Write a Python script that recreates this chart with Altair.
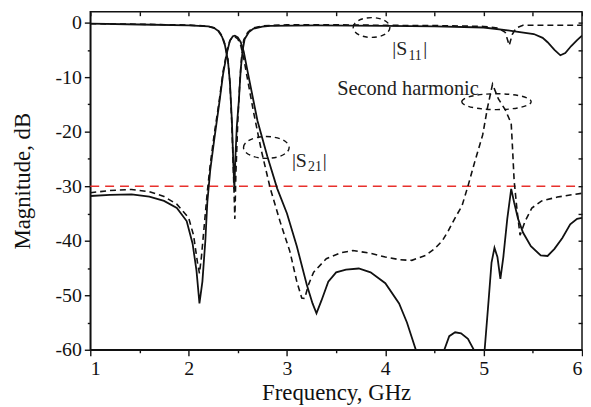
import altair as alt
import pandas as pd

# ---------------- data ----------------
# |S21| measured (solid)
s21_meas_f = [1.0, 1.2, 1.42, 1.6, 1.75, 1.88, 1.98, 2.04, 2.08, 2.11, 2.14, 2.17, 2.19, 2.22, 2.26,
              2.31, 2.35, 2.39, 2.42, 2.45, 2.47, 2.5, 2.53, 2.56, 2.6, 2.65, 2.7, 2.8, 2.9, 3.0,
              3.1, 3.2, 3.26, 3.3, 3.35, 3.42, 3.5, 3.6, 3.73, 3.85, 4.0, 4.14, 4.22, 4.31, 4.35,
              4.55, 4.6, 4.65, 4.71, 4.77, 4.84, 4.9, 4.94, 4.99, 5.01, 5.05, 5.08, 5.11, 5.14, 5.17,
              5.2, 5.24, 5.28, 5.31, 5.35, 5.4, 5.48, 5.58, 5.65, 5.72, 5.8, 5.88, 5.95, 6.0]
s21_meas_db = [-31.8, -31.6, -31.5, -31.9, -32.7, -34.0, -36.4, -40.5, -45.5, -51.5, -47.5, -40.0, -33.0, -27.0, -21.5,
               -15.0, -9.5, -5.5, -3.3, -2.5, -2.4, -2.7, -3.6, -5.3, -9.0, -13.5, -18.0, -24.5, -30.4, -35.0,
               -41.0, -48.0, -51.5, -53.3, -51.0, -47.5, -45.8, -45.3, -45.1, -45.8, -47.8, -51.5, -55.0, -60.0, -63.0,
               -63.0, -60.0, -57.5, -56.8, -57.0, -58.0, -60.0, -63.0, -63.0, -60.0, -51.0, -44.0, -41.3, -43.0, -47.0,
               -43.0, -36.0, -30.5, -33.0, -36.0, -38.5, -41.0, -42.7, -42.8, -41.5, -39.5, -37.0, -36.0, -35.8]

# |S21| simulated (dashed)
s21_sim_f = [1.0, 1.2, 1.42, 1.6, 1.75, 1.88, 2.0, 2.05, 2.09, 2.11, 2.13, 2.16, 2.19, 2.22, 2.26,
             2.31, 2.35, 2.39, 2.42, 2.45, 2.47, 2.5, 2.53, 2.56, 2.6, 2.66, 2.74, 2.83, 2.93, 3.03,
             3.1, 3.15, 3.18, 3.22, 3.27, 3.4, 3.55, 3.67, 3.85, 4.0, 4.15, 4.27, 4.41, 4.5, 4.58,
             4.64, 4.71, 4.78, 4.84, 4.91, 4.99, 5.04, 5.09, 5.15, 5.22, 5.28, 5.29, 5.31, 5.34, 5.37,
             5.42, 5.49, 5.59, 5.75, 5.92, 6.0]
s21_sim_db = [-31.2, -30.8, -30.6, -31.0, -31.9, -33.3, -35.8, -39.0, -44.0, -46.0, -43.0, -37.0, -31.0, -26.0, -20.5,
              -14.5, -9.0, -5.2, -3.3, -2.6, -2.6, -3.0, -4.2, -6.5, -10.5, -16.4, -23.5, -30.4, -36.5, -42.0,
              -47.5, -50.5, -50.6, -48.0, -45.8, -43.3, -42.2, -41.8, -42.3, -43.0, -43.5, -43.6, -42.7, -41.5, -40.0,
              -38.2, -35.8, -33.6, -30.0, -25.5, -20.6, -15.5, -11.3, -14.0, -16.0, -18.5, -21.8, -29.0, -34.5, -39.0,
              -36.5, -34.0, -32.7, -32.0, -31.5, -31.3]

# |S11| measured (solid)
s11_meas_f = [1.0, 1.5, 2.0, 2.2, 2.26, 2.3, 2.34, 2.37, 2.4, 2.42, 2.44, 2.455, 2.465, 2.475, 2.49,
              2.51, 2.53, 2.55, 2.57, 2.61, 2.66, 2.75, 2.83, 3.3, 4.0, 4.5, 5.0, 5.28, 5.51, 5.6,
              5.65, 5.72, 5.78, 5.83, 5.89, 5.95, 6.0]
s11_meas_db = [-0.2, -0.35, -0.5, -0.7, -1.0, -1.5, -2.6, -4.2, -7.0, -11.0, -18.0, -26.0, -30.5, -25.0, -19.0,
               -14.5, -8.5, -5.0, -3.0, -1.8, -1.1, -0.75, -0.6, -0.5, -0.6, -0.7, -0.9, -1.5, -2.1, -2.8,
               -3.6, -5.0, -6.0, -5.6, -4.3, -3.2, -2.4]

# |S11| simulated (dashed)
s11_sim_f = [1.0, 1.5, 2.0, 2.2, 2.26, 2.3, 2.34, 2.37, 2.4, 2.42, 2.44, 2.46, 2.47, 2.48, 2.5,
             2.52, 2.54, 2.56, 2.6, 2.65, 2.75, 3.0, 3.5, 4.0, 4.5, 5.0, 5.15, 5.22, 5.26, 5.29,
             5.33, 5.4, 6.0]
s11_sim_db = [-0.2, -0.3, -0.45, -0.65, -0.95, -1.4, -2.4, -4.0, -6.8, -11.0, -19.0, -30.0, -36.0, -28.0, -18.0,
              -11.0, -6.0, -3.2, -1.8, -1.0, -0.6, -0.4, -0.4, -0.5, -0.55, -0.7, -1.0, -1.8, -4.2, -2.2,
              -1.0, -0.5, -0.5]

# -30 dB reference line
ref_f = [1.0, 5.93]
ref_db = [-30.0, -30.0]

# axis ticks
x_major_ticks = [1, 2, 3, 4, 5, 6]
x_minor_ticks = [1.5, 2.5, 3.5, 4.5, 5.5]
y_major_ticks = [0, -10, -20, -30, -40, -50, -60]
y_minor_ticks = [-5, -15, -25, -35, -45, -55]

# annotations
ann_text = ["|S", "11", "|", "|S", "21", "|", "Second harmonic"]
ann_f = [4.07, 4.235, 4.385, 3.05, 3.215, 3.365, 3.51]
ann_db = [-6.0, -6.8, -6.0, -26.5, -27.3, -26.5, -13.3]
ann_size = [20, 14, 20, 20, 14, 20, 20.5]

ell_f = [3.86, 2.79, 5.13]
ell_db = [-0.9, -22.9, -14.5]
ell_w = [37, 46, 70]
ell_h = [20, 22, 16]

# ---------------- chart ----------------
FONT = "Liberation Serif"


def frame(f, db):
    return pd.DataFrame({"f": f, "db": db})


def ellipse_path(w, h):
    r = h / w
    k = 0.5523
    return (f"M -1 0 C -1 {-k*r:.4f} {-k:.4f} {-r:.4f} 0 {-r:.4f} "
            f"C {k:.4f} {-r:.4f} 1 {-k*r:.4f} 1 0 "
            f"C 1 {k*r:.4f} {k:.4f} {r:.4f} 0 {r:.4f} "
            f"C {-k:.4f} {r:.4f} -1 {k*r:.4f} -1 0 Z")


xs = alt.Scale(domain=[1, 6], nice=False, zero=False)
ys = alt.Scale(domain=[-60, 2], nice=False, zero=False)

lbl = "'' + datum.value"
common = dict(grid=False, labelFont=FONT, titleFont=FONT, labelFontSize=20, titleFontSize=23,
              labelColor="#111111", titleColor="#111111", titleFontWeight="normal",
              domainColor="#111111", tickColor="#111111", tickWidth=1.4, domainWidth=1.5)

ax_x_major = alt.Axis(values=x_major_ticks, title="Frequency, GHz", tickSize=6, labelPadding=3,
                      titlePadding=3, labelExpr=lbl, **common)
ax_y_major = alt.Axis(values=y_major_ticks, title="Magnitude, dB", tickSize=6, labelPadding=3,
                      titlePadding=21, labelExpr=lbl, **common)
ax_x_minor = alt.Axis(values=x_minor_ticks, title="", tickSize=3, labels=False, domain=False, **common)
ax_y_minor = alt.Axis(values=y_minor_ticks, title="", tickSize=3, labels=False, domain=False, **common)
ax_x_top = alt.Axis(orient="top", values=x_major_ticks + x_minor_ticks, title="", tickSize=4, offset=-4,
                    labels=False, domain=False, **common)
ax_y_right = alt.Axis(orient="right", values=y_major_ticks + y_minor_ticks, title="", tickSize=4, offset=-4,
                      labels=False, domain=False, **common)


def curve(df, xaxis, yaxis, dash=None, width=1.8):
    kw = dict(color="#111111", strokeWidth=width, clip=True)
    if dash:
        kw["strokeDash"] = dash
    return alt.Chart(df).mark_line(**kw).encode(
        x=alt.X("f:Q", scale=xs, axis=xaxis),
        y=alt.Y("db:Q", scale=ys, axis=yaxis),
    )


l1 = curve(frame(s21_meas_f, s21_meas_db), ax_x_major, ax_y_major)
l2 = curve(frame(s21_sim_f, s21_sim_db), ax_x_minor, ax_y_minor, dash=[6, 4], width=1.6)
l3 = curve(frame(s11_meas_f, s11_meas_db), ax_x_top, ax_y_right)
l4 = curve(frame(s11_sim_f, s11_sim_db), None, None, dash=[6, 4], width=1.6)

ref = alt.Chart(frame(ref_f, ref_db)).mark_line(color="#e8302c", strokeWidth=1.6, strokeDash=[9, 6]).encode(
    x=alt.X("f:Q", scale=xs, axis=None),
    y=alt.Y("db:Q", scale=ys, axis=None),
)

ann_df = pd.DataFrame({"f": ann_f, "db": ann_db, "t": ann_text, "s": ann_size})
texts = alt.Chart(ann_df).mark_text(align="left", baseline="alphabetic", font=FONT, color="#222222").encode(
    x=alt.X("f:Q", scale=xs, axis=None),
    y=alt.Y("db:Q", scale=ys, axis=None),
    text="t:N",
    size=alt.Size("s:Q", scale=None, legend=None),
)

ell_df = pd.DataFrame({
    "f": ell_f, "db": ell_db,
    "shape": [ellipse_path(w, h) for w, h in zip(ell_w, ell_h)],
    "size": [w * w for w in ell_w],
})
ellipses = alt.Chart(ell_df).mark_point(filled=False, color="#111111", strokeWidth=1.4,
                                        strokeDash=[5, 4], opacity=1).encode(
    x=alt.X("f:Q", scale=xs, axis=None),
    y=alt.Y("db:Q", scale=ys, axis=None),
    shape=alt.Shape("shape:N", scale=None, legend=None),
    size=alt.Size("size:Q", scale=None, legend=None),
)

chart = alt.layer(ref, l4, l2, l3, l1, ellipses, texts).resolve_axis(
    x="independent", y="independent"
).properties(
    width=496, height=341,
    padding={"left": 3, "top": 1, "right": 0, "bottom": 0},
    background="white",
).configure_view(
    stroke="#111111", strokeWidth=1.5
)

chart.save("out.html", embed_options={"renderer": "svg", "actions": False})
